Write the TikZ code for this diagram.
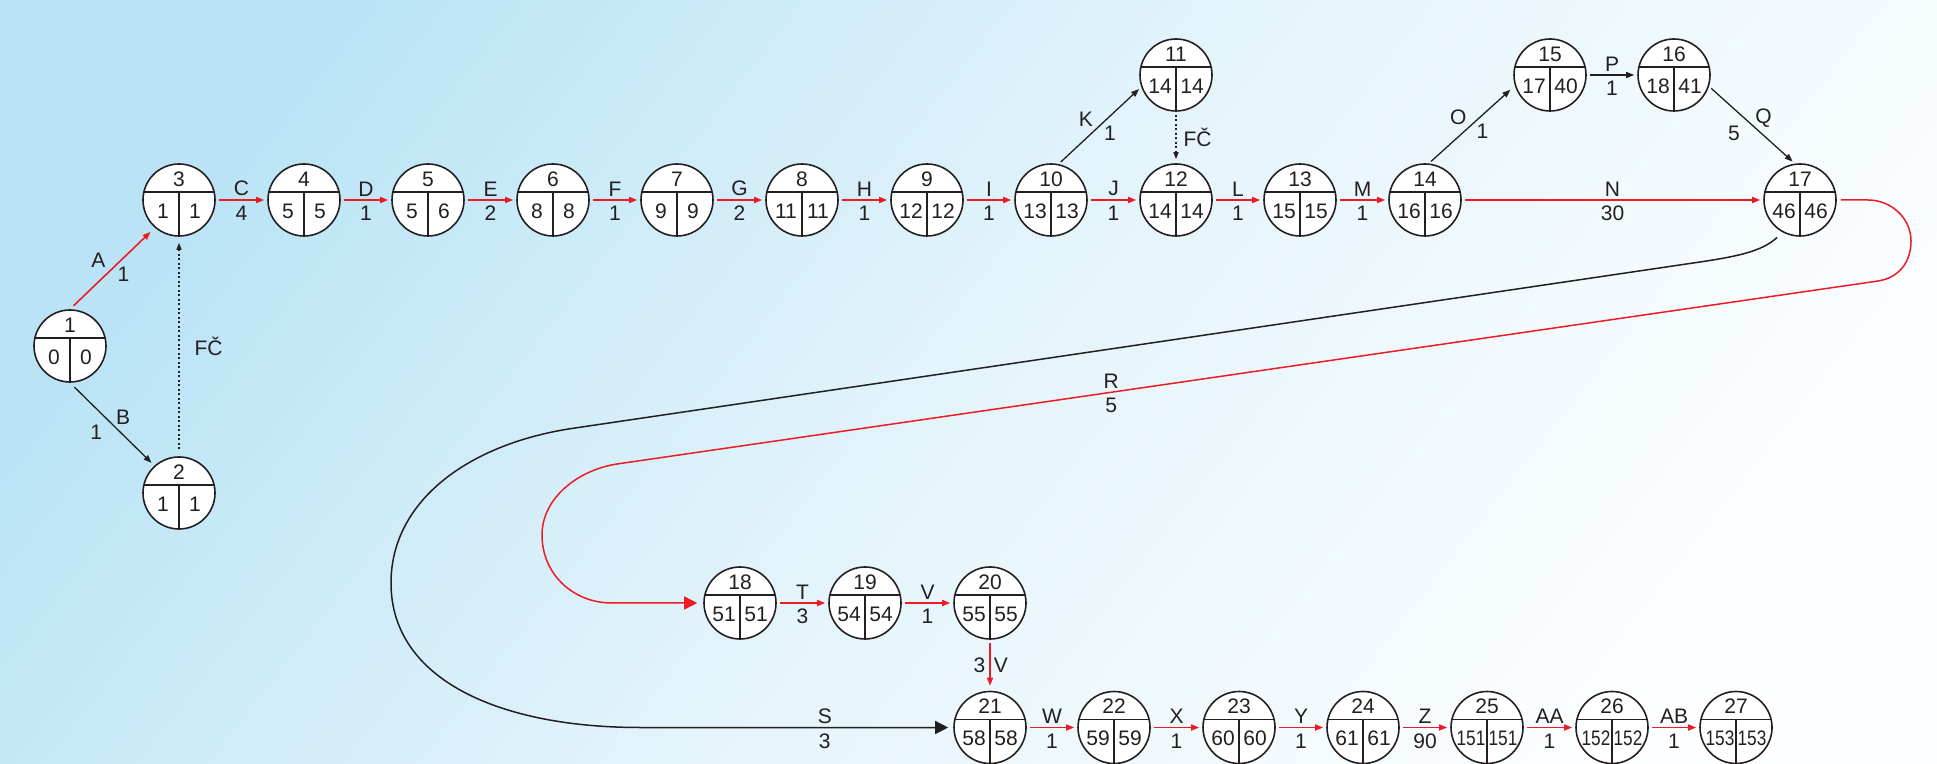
\documentclass[tikz,border=0pt]{standalone}
\usepackage{fontspec}
\setmainfont{Liberation Sans}
\usepackage{graphicx}
\usepackage{xcolor}
\usepackage{tikz}
\usetikzlibrary{arrows.meta,positioning}

\definecolor{critred}{RGB}{237,28,36}
\definecolor{ink}{RGB}{35,31,32}
\definecolor{bgblue}{RGB}{186,228,246}
\definecolor{bgmid}{RGB}{228,244,251}
\definecolor{bgwhite}{RGB}{252,254,255}

\tikzset{
event/.style={circle,draw=ink,line width=1.6pt,fill=white,minimum size=72pt,inner sep=0pt,
 path picture={\draw[ink,line width=1.3pt]([yshift=8pt]path picture bounding box.west)--([yshift=8pt]path picture bounding box.east);
  \draw[ink,line width=1.3pt]([yshift=8pt]path picture bounding box.center)--(path picture bounding box.south);}},
crit/.style={critred,line width=1.6pt,shorten <=3pt,shorten >=3pt,-{Triangle[length=8pt,width=6pt]}},
act/.style={ink,line width=1.3pt,shorten <=3pt,shorten >=3pt,-{Triangle[length=8pt,width=6pt]}},
dummy/.style={ink,line width=1.3pt,dash pattern=on 2pt off 2.5pt,shorten <=5pt,shorten >=5pt,-{Triangle[length=7pt,width=5pt]}},
bigcrit/.style={critred,line width=1.5pt,-{Triangle[length=13pt,width=13pt]}},
bigact/.style={ink,line width=1.5pt,-{Triangle[length=13pt,width=13pt]}},
nm/.style={above=3pt,inner sep=0pt,text=ink},
dur/.style={below=5.5pt,inner sep=0pt,text=ink},
tag/.style={midway,inner sep=0pt,text=ink}
}

\newcommand{\evnode}[5]{%
\node[event](n#1)at(#2,#3){};
\node(n#1t)at([yshift=21pt]n#1.center){#1};
\node(n#1l)at([xshift=-16pt,yshift=-11pt]n#1.center){#4};
\node(n#1r)at([xshift=16pt,yshift=-11pt]n#1.center){#5};}
\newcommand{\narrownum}[1]{\scalebox{0.82}[1]{#1}}

\begin{document}
\begin{tikzpicture}[x=1pt,y=1pt,font=\fontsize{21}{25}\selectfont,text=ink]
\useasboundingbox(0,0)rectangle(1937,763);
\shade[top color=bgblue,bottom color=bgwhite,middle color=bgmid,shading angle=52](0,0)rectangle(1937,763);
\evnode{1}{70}{417}{0}{0}
\evnode{2}{179}{270}{1}{1}
\evnode{3}{179}{563}{1}{1}
\evnode{4}{304}{563}{5}{5}
\evnode{5}{428}{563}{5}{6}
\evnode{6}{553}{563}{8}{8}
\evnode{7}{677}{563}{9}{9}
\evnode{8}{802}{563}{11}{11}
\evnode{9}{927}{563}{12}{12}
\evnode{10}{1051}{563}{13}{13}
\evnode{11}{1176}{688}{14}{14}
\evnode{12}{1176}{563}{14}{14}
\evnode{13}{1300}{563}{15}{15}
\evnode{14}{1425}{563}{16}{16}
\evnode{15}{1550}{688}{17}{40}
\evnode{16}{1674}{688}{18}{41}
\evnode{17}{1800}{563}{46}{46}
\evnode{18}{740}{160}{51}{51}
\evnode{19}{865}{160}{54}{54}
\evnode{20}{990}{160}{55}{55}
\evnode{21}{990}{35.5}{58}{58}
\evnode{22}{1114}{35.5}{59}{59}
\evnode{23}{1239}{35.5}{60}{60}
\evnode{24}{1363}{35.5}{61}{61}
\evnode{25}{1487}{35.5}{\narrownum{151}}{\narrownum{151}}
\evnode{26}{1612}{35.5}{\narrownum{152}}{\narrownum{152}}
\evnode{27}{1736}{35.5}{\narrownum{153}}{\narrownum{153}}
\draw[crit,shorten <=5pt,shorten >=6pt](n1.north)--node[tag,shift={(-14pt,8pt)}](lA){A}node[tag,shift={(11pt,-6pt)}](dA){1}(n3.229);
\draw[act,shorten <=6pt,shorten >=4pt](n1.south)--node[tag,shift={(11pt,7pt)}](lB){B}node[tag,shift={(-16pt,-8pt)}](dB){1}(n2.132);
\draw[dummy,shorten <=7pt,shorten >=6pt](n2)--node[midway,right=15pt,inner sep=0pt](fc1){FČ}(n3);
\draw[crit](n3)--node[nm](lC){C}node[dur](dC){4}(n4);
\draw[crit](n4)--node[nm](lD){D}node[dur](dD){1}(n5);
\draw[crit](n5)--node[nm](lE){E}node[dur](dE){2}(n6);
\draw[crit](n6)--node[nm](lF){F}node[dur](dF){1}(n7);
\draw[crit](n7)--node[nm](lG){G}node[dur](dG){2}(n8);
\draw[crit](n8)--node[nm](lH){H}node[dur](dH){1}(n9);
\draw[crit](n9)--node[nm](lI){I}node[dur](dI){1}(n10);
\draw[crit](n10)--node[nm](lJ){J}node[dur](dJ){1}(n12);
\draw[act](n10.78)--node[tag,shift={(-14pt,6.5pt)}](lK){K}node[tag,shift={(10pt,-7.5pt)}](dK){1}(n11.199);
\draw[dummy,shorten <=3pt,shorten >=4pt](n11)--node[midway,right=7pt,inner sep=0pt](fc2){FČ}(n12);
\draw[crit](n12)--node[nm](lL){L}node[dur](dL){1}(n13);
\draw[crit](n13)--node[nm](lM){M}node[dur](dM){1}(n14);
\draw[crit](n14)--node[nm](lN){N}node[dur](dN){30}(n17);
\draw[act,shorten >=6pt](n14.84)--node[tag,shift={(-13.5pt,7.4pt)}](lO){O}node[tag,shift={(10.5pt,-6.6pt)}](dO){1}(n15.197);
\draw[act](n15)--node[nm](lP){P}node[dur](dP){1}(n16);
\draw[act](n16.342)--node[tag,shift={(11.6pt,7pt)}](lQ){Q}node[tag,shift={(-18pt,-8pt)}](dQ){5}(n17.98);
\draw[bigcrit,shorten >=6pt]([xshift=4pt]n17.east)--(1868,563)..controls(1891,563)and(1911,545)..(1911,522)..controls(1911,500)and(1898,485)..(1878,482)--node[pos=.608,nm](lR){R}node[pos=.608,dur](dR){5}(617,299)..controls(578,293)and(542,265)..(542,228)..controls(542,189)and(573,160)..(612,160)--(n18.west);
\draw[bigact,shorten >=5pt]([shift={(-4pt,-6pt)}]n17.239)..controls(1762,512)and(1740,507)..(1700,501)--(575,335)..controls(470,320)and(391,263)..(391,180)..controls(391,83)and(500,35.5)..(640,35.5)--node[pos=.59,nm](lS){S}node[pos=.59,dur](dS){3}(n21.west);
\draw[crit](n18)--node[nm](lT){T}node[dur](dT){3}(n19);
\draw[crit](n19)--node[nm](lV){V}node[dur](dV){1}(n20);
\draw[crit,shorten >=5pt](n20)--node[midway,left=4pt,inner sep=0pt,text=ink](dV2){3}node[midway,right=3pt,inner sep=0pt,text=ink](lV2){V}(n21);
\draw[crit](n21)--node[nm](lW){W}node[dur](dW){1}(n22);
\draw[crit](n22)--node[nm](lX){X}node[dur](dX){1}(n23);
\draw[crit](n23)--node[nm](lY){Y}node[dur](dY){1}(n24);
\draw[crit](n24)--node[nm](lZ){Z}node[dur](dZ){90}(n25);
\draw[crit](n25)--node[nm](lAA){AA}node[dur](dAA){1}(n26);
\draw[crit](n26)--node[nm](lAB){AB}node[dur](dAB){1}(n27);
\end{tikzpicture}
\end{document}
